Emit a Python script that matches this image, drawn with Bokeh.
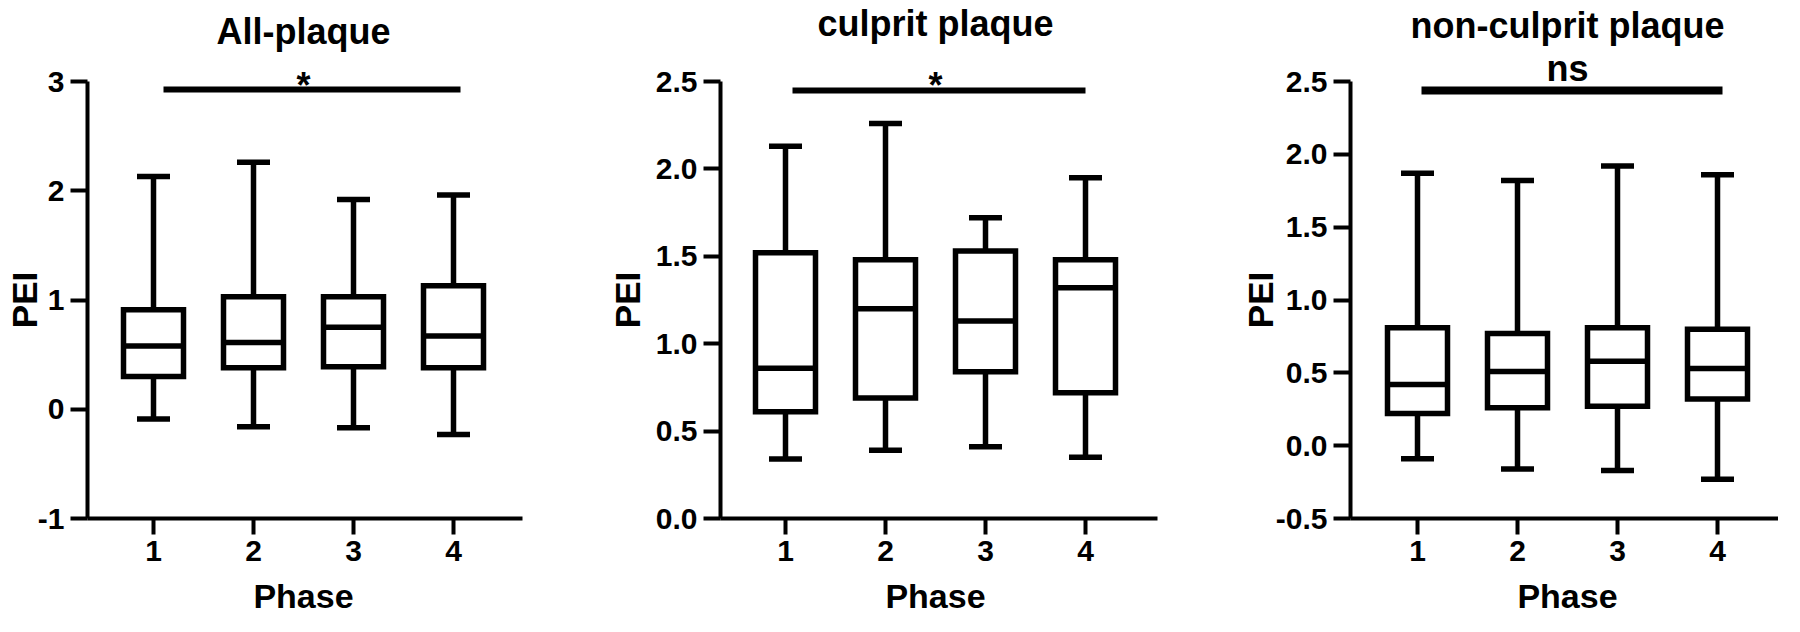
from math import pi
from bokeh.plotting import figure
from bokeh.layouts import row
from bokeh.models import Range1d, FixedTicker, PrintfTickFormatter, Label
from bokeh.embed import file_html
from bokeh.resources import INLINE

# ---------------- data ----------------
phases = [1, 2, 3, 4]
phase_labels = ["1", "2", "3", "4"]

# All-plaque
all_wmax = [2.13, 2.26, 1.92, 1.96]
all_q3 = [0.91, 1.03, 1.03, 1.13]
all_med = [0.58, 0.61, 0.75, 0.67]
all_q1 = [0.30, 0.38, 0.39, 0.38]
all_wmin = [-0.09, -0.16, -0.17, -0.23]

# culprit plaque
cul_wmax = [2.13, 2.26, 1.72, 1.95]
cul_q3 = [1.52, 1.48, 1.53, 1.48]
cul_med = [0.86, 1.20, 1.13, 1.32]
cul_q1 = [0.61, 0.69, 0.84, 0.72]
cul_wmin = [0.34, 0.39, 0.41, 0.35]

# non-culprit plaque
non_wmax = [1.87, 1.82, 1.92, 1.86]
non_q3 = [0.81, 0.77, 0.81, 0.80]
non_med = [0.42, 0.51, 0.58, 0.53]
non_q1 = [0.22, 0.26, 0.27, 0.32]
non_wmin = [-0.09, -0.16, -0.17, -0.23]

titles = ["All-plaque", "culprit plaque", "non-culprit plaque"]
sig_labels = ["*", "*", "ns"]
y_ticks_all = [-1, 0, 1, 2, 3]
y_ticks_cul = [0.0, 0.5, 1.0, 1.5, 2.0, 2.5]
y_ticks_non = [-0.5, 0.0, 0.5, 1.0, 1.5, 2.0, 2.5]

# ---------------- style / layout ----------------
FONT = "Liberation Sans"
BOX_W = 0.6
CAP_W = 0.33
LW = 5.5
PAGE_TOP = 8
FIG_H = 616
X_PX = 100.0          # pixels per phase step
AXIS_Y_PX = 526       # page y of the x axis
AXIS_TOP_PX = 89      # page y of the top y tick


def panel(title, sig, wmin, q1, med, q3, wmax, ymin, ymax, yticks, yfmt,
          fig_left, fig_w, axis_x_px, cat1_px, axis_right_px,
          title_base, sig_base, sig_line_px, sig_x0, sig_x1, sig_lw,
          pei_base_x, phase_base):
    ppu = (AXIS_Y_PX - AXIS_TOP_PX) / (ymax - ymin)

    def xv(px):  # page x -> data x
        return 1 + (px - cat1_px) / X_PX

    def yv(py):  # page y -> data y
        return ymin + (AXIS_Y_PX - py) / ppu

    p = figure(x_range=Range1d(xv(fig_left), xv(fig_left + fig_w)),
               y_range=Range1d(yv(PAGE_TOP + FIG_H), yv(PAGE_TOP)),
               frame_width=fig_w, frame_height=FIG_H,
               min_border=0, min_border_left=0, min_border_right=0,
               min_border_top=0, min_border_bottom=0,
               output_backend="svg", toolbar_location=None,
               background_fill_color="white", border_fill_color="white")
    p.title.visible = False
    p.outline_line_color = None
    p.grid.visible = False

    xax = p.xaxis[0]
    yax = p.yaxis[0]
    xax.fixed_location = ymin
    yax.fixed_location = xv(axis_x_px)
    xax.bounds = (xv(axis_x_px), xv(axis_right_px))
    yax.bounds = (ymin, ymax)
    for ax in (xax, yax):
        ax.axis_line_width = 4
        ax.axis_line_color = "black"
        ax.major_tick_line_width = 4
        ax.major_tick_line_color = "black"
        ax.minor_tick_line_color = None
        ax.major_tick_in = 0
        ax.major_label_text_font = FONT
        ax.major_label_text_font_style = "bold"
        ax.major_label_text_font_size = "30px"
        ax.major_label_text_color = "black"
        ax.major_label_standoff = 6
    xax.major_tick_out = 16
    yax.major_tick_out = 17
    xax.ticker = FixedTicker(ticks=phases)
    xax.major_label_overrides = {k: v for k, v in zip(phases, phase_labels)}
    yax.ticker = FixedTicker(ticks=yticks)
    yax.formatter = PrintfTickFormatter(format=yfmt)

    xs = phases
    # whiskers
    p.segment(x0=xs, y0=q3, x1=xs, y1=wmax, line_width=LW, line_color="black")
    p.segment(x0=xs, y0=wmin, x1=xs, y1=q1, line_width=LW, line_color="black")
    # caps
    p.segment(x0=[x - CAP_W / 2 for x in xs], y0=wmax, x1=[x + CAP_W / 2 for x in xs], y1=wmax,
              line_width=LW, line_color="black")
    p.segment(x0=[x - CAP_W / 2 for x in xs], y0=wmin, x1=[x + CAP_W / 2 for x in xs], y1=wmin,
              line_width=LW, line_color="black")
    # boxes
    p.quad(left=[x - BOX_W / 2 for x in xs], right=[x + BOX_W / 2 for x in xs],
           bottom=q1, top=q3, fill_color="white", line_color="black", line_width=LW,
           line_join="miter")
    # medians
    p.segment(x0=[x - BOX_W / 2 for x in xs], y0=med, x1=[x + BOX_W / 2 for x in xs], y1=med,
              line_width=LW, line_color="black")
    # significance bar
    p.segment(x0=[sig_x0], y0=[yv(sig_line_px)], x1=[sig_x1], y1=[yv(sig_line_px)],
              line_width=sig_lw, line_color="black")

    common = dict(text_font=FONT, text_font_style="bold", text_color="black")
    p.add_layout(Label(x=2.5, y=yv(title_base), text=title, text_align="center",
                       text_baseline="alphabetic", text_font_size="36px", **common))
    p.add_layout(Label(x=2.5, y=yv(sig_base), text=sig, text_align="center",
                       text_baseline="alphabetic", text_font_size="36px", **common))
    p.add_layout(Label(x=xv(pei_base_x), y=(ymin + ymax) / 2, text="PEI", angle=pi / 2,
                       text_align="center", text_baseline="alphabetic",
                       text_font_size="35px", **common))
    p.add_layout(Label(x=2.5, y=yv(phase_base), text="Phase", text_align="center",
                       text_baseline="alphabetic", text_font_size="34px", **common))
    return p


p1 = panel(titles[0], sig_labels[0], all_wmin, all_q1, all_med, all_q3, all_wmax,
           -1, 3, y_ticks_all, "%d",
           fig_left=8, fig_w=592, axis_x_px=95, cat1_px=161, axis_right_px=530,
           title_base=39, sig_base=93, sig_line_px=97, sig_x0=1.10, sig_x1=4.07, sig_lw=6,
           pei_base_x=32, phase_base=603)

p2 = panel(titles[1], sig_labels[1], cul_wmin, cul_q1, cul_med, cul_q3, cul_wmax,
           0, 2.5, y_ticks_cul, "%.1f",
           fig_left=600, fig_w=630, axis_x_px=728, cat1_px=793, axis_right_px=1165,
           title_base=31, sig_base=93, sig_line_px=98, sig_x0=1.07, sig_x1=4.0, sig_lw=6,
           pei_base_x=635, phase_base=603)

p3 = panel(titles[2], sig_labels[2], non_wmin, non_q1, non_med, non_q3, non_wmax,
           -0.5, 2.5, y_ticks_non, "%.1f",
           fig_left=1230, fig_w=556, axis_x_px=1358, cat1_px=1425, axis_right_px=1786,
           title_base=33, sig_base=76, sig_line_px=98, sig_x0=1.04, sig_x1=4.05, sig_lw=8,
           pei_base_x=1268, phase_base=603)

layout = row(p1, p2, p3, spacing=0)
open("out.html", "w").write(file_html(layout, INLINE))
